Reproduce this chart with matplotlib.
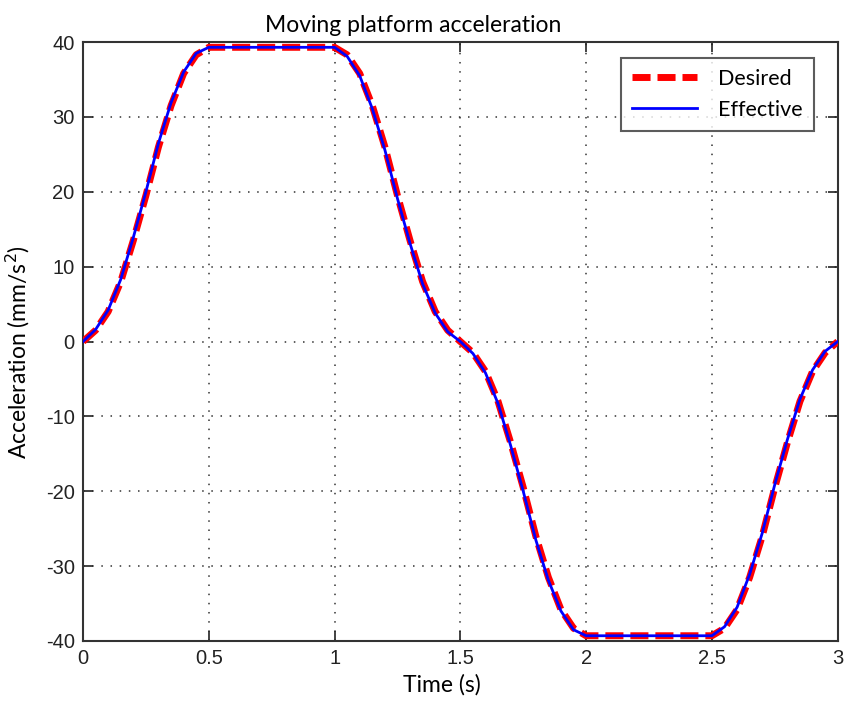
import matplotlib
matplotlib.use("Agg")
import matplotlib.pyplot as plt

time_s = [0.0, 0.05, 0.1, 0.15, 0.2, 0.25, 0.3, 0.35, 0.4, 0.45, 0.5,
          0.6, 0.7, 0.8, 0.9, 1.0,
          1.05, 1.1, 1.15, 1.2, 1.25, 1.3, 1.35, 1.4, 1.45, 1.5,
          1.55, 1.6, 1.65, 1.7, 1.75, 1.8, 1.85, 1.9, 1.95, 2.0,
          2.1, 2.2, 2.3, 2.4, 2.5,
          2.55, 2.6, 2.65, 2.7, 2.75, 2.8, 2.85, 2.9, 2.95, 3.0]

desired = [0.0, 1.5, 4.0, 8.0, 13.5, 19.5, 26.0, 31.5, 35.8, 38.3, 39.3,
           39.3, 39.3, 39.3, 39.3, 39.3,
           38.3, 35.8, 31.5, 26.0, 19.5, 13.5, 8.0, 4.0, 1.5, 0.0,
           -1.5, -4.0, -8.0, -13.5, -19.5, -26.0, -31.5, -35.8, -38.3, -39.3,
           -39.3, -39.3, -39.3, -39.3, -39.3,
           -38.3, -35.8, -31.5, -26.0, -19.5, -13.5, -8.0, -4.0, -1.5, 0.0]

effective = [0.0, 1.6, 4.2, 8.3, 13.9, 20.0, 26.5, 31.9, 36.0, 38.5, 39.3,
             39.3, 39.3, 39.3, 39.3, 39.3,
             38.1, 35.5, 31.1, 25.6, 19.1, 13.1, 7.7, 3.8, 1.3, 0.0,
             -1.6, -4.2, -8.3, -13.9, -20.0, -26.5, -31.9, -36.0, -38.5, -39.3,
             -39.3, -39.3, -39.3, -39.3, -39.3,
             -38.1, -35.5, -31.1, -25.6, -19.1, -13.1, -7.7, -3.8, -1.3, 0.0]

x_ticks = [0, 0.5, 1, 1.5, 2, 2.5, 3]
x_tick_labels = ["0", "0.5", "1", "1.5", "2", "2.5", "3"]
y_ticks = [-40, -30, -20, -10, 0, 10, 20, 30, 40]

plt.rcParams['font.family'] = ['Liberation Sans', 'DejaVu Sans']
plt.rcParams['axes.unicode_minus'] = False

label_font = ['Lato', 'DejaVu Sans']

fig = plt.figure(figsize=(8.47, 7.13), dpi=100)
ax = fig.add_axes([0.098, 0.101, 0.891, 0.840])

ax.plot(time_s, desired, color='red', linestyle=(0, (2.6, 1.0)), linewidth=5,
        label='Desired', zorder=3)
ax.plot(time_s, effective, color='blue', linewidth=2, label='Effective', zorder=4)

ax.set_xlim(0, 3)
ax.set_ylim(-40, 40)
ax.set_xticks(x_ticks)
ax.set_xticklabels(x_tick_labels)
ax.set_yticks(y_ticks)
ax.grid(True, linestyle=(0, (1, 5)), color='#333333', linewidth=1.1)
ax.tick_params(direction='in', length=7, width=1.2, top=True, right=True,
               labelsize=14.5, colors='#222222', pad=6)
for sp in ax.spines.values():
    sp.set_linewidth(1.5)
    sp.set_color('#333333')

ax.set_title('Moving platform acceleration', fontsize=16.5, family=label_font,
             pad=7, x=0.438)
ax.set_xlabel('Time (s)', fontsize=16.5, family=label_font, labelpad=6)
ax.xaxis.set_label_coords(0.475, -0.055)
ax.set_ylabel('Acceleration (mm/s$^2$)', fontsize=16.5, family=label_font, labelpad=8)
ax.yaxis.set_label_coords(-0.0675, 0.482)

leg = ax.legend(loc='upper right', bbox_to_anchor=(0.968, 0.973), borderaxespad=0,
                frameon=True, fancybox=False, edgecolor='#333333',
                handlelength=3.0, borderpad=0.5, labelspacing=0.5,
                handletextpad=1.0,
                prop={'family': label_font, 'size': 15.5})
leg.get_frame().set_linewidth(1.5)

fig.savefig('out.png', dpi=100)
